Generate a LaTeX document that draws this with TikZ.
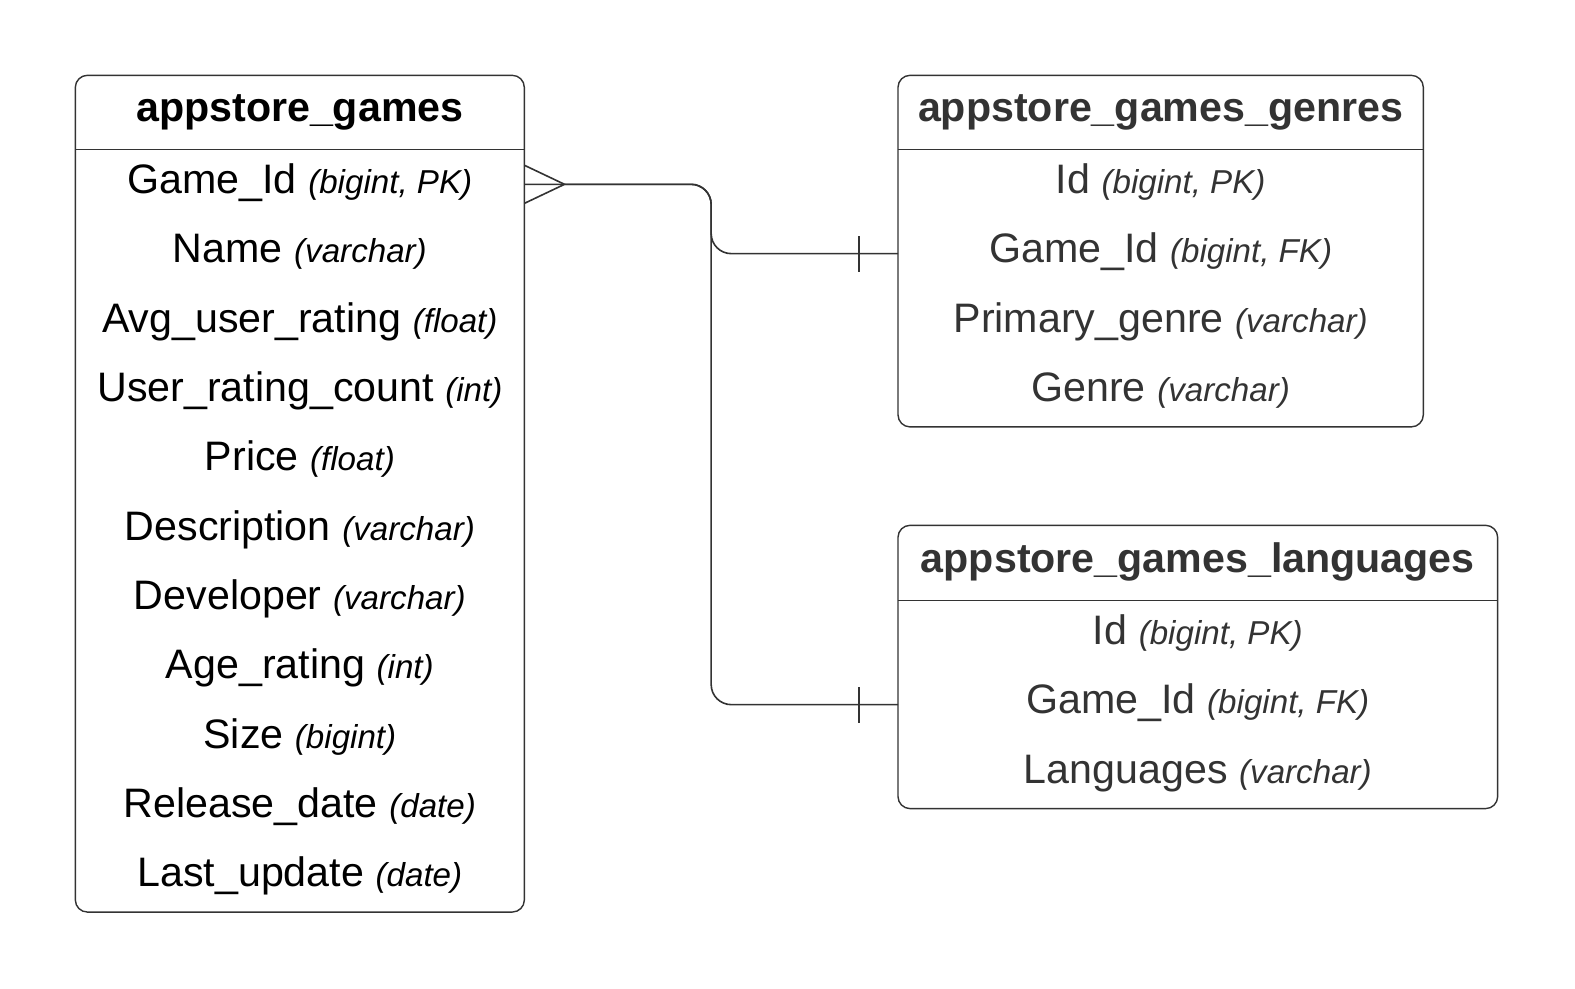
\documentclass[tikz,border=0pt]{standalone}
\usepackage{fontspec}
\setmainfont{Liberation Sans}
\usetikzlibrary{positioning}
\definecolor{edge}{HTML}{333333}
\definecolor{ink}{HTML}{333333}
\newcommand{\ty}[1]{{\fontsize{33}{40}\selectfont\itshape #1}}
\tikzset{
  tblhead/.style={minimum height=74pt, inner sep=0pt, outer sep=0pt, text height=30pt, text depth=11.4pt,
    font=\fontsize{41}{48}\selectfont\bfseries},
  tblrow/.style={minimum height=69pt, inner sep=0pt, outer sep=0pt, text height=30pt, text depth=11.4pt,
    font=\fontsize{41}{48}\selectfont},
  tblbox/.style={draw=edge, line width=1.4pt, rounded corners=12pt},
  link/.style={draw=edge, line width=1.6pt}
}

\begin{document}
\begin{tikzpicture}[x=1pt, y=-1pt]
  \useasboundingbox (0,0) rectangle (1568,984);

  \begin{scope}[every node/.append style={minimum width=447pt}]
    \node[tblhead] (g) at (298.5,112) {appstore\_games};
    \node[tblrow, below=0pt of g] (g1) {Game\_Id \ty{(bigint, PK)}};
    \node[tblrow, below=0pt of g1] (g2) {Name \ty{(varchar)}};
    \node[tblrow, below=0pt of g2] (g3) {Avg\_user\_rating \ty{(float)}};
    \node[tblrow, below=0pt of g3] (g4) {User\_rating\_count \ty{(int)}};
    \node[tblrow, below=0pt of g4] (g5) {Price \ty{(float)}};
    \node[tblrow, below=0pt of g5] (g6) {Description \ty{(varchar)}};
    \node[tblrow, below=0pt of g6] (g7) {Developer \ty{(varchar)}};
    \node[tblrow, below=0pt of g7] (g8) {Age\_rating \ty{(int)}};
    \node[tblrow, below=0pt of g8] (g9) {Size \ty{(bigint)}};
    \node[tblrow, below=0pt of g9] (g10) {Release\_date \ty{(date)}};
    \node[tblrow, below=0pt of g10] (g11) {Last\_update \ty{(date)}};
  \end{scope}

  \begin{scope}[text=ink, every node/.append style={minimum width=523pt}]
    \node[tblhead] (gen) at (1155.5,112) {appstore\_games\_genres};
    \node[tblrow, below=0pt of gen] (gen1) {Id \ty{(bigint, PK)}};
    \node[tblrow, below=0pt of gen1] (gen2) {Game\_Id \ty{(bigint, FK)}};
    \node[tblrow, below=0pt of gen2] (gen3) {Primary\_genre \ty{(varchar)}};
    \node[tblrow, below=0pt of gen3] (gen4) {Genre \ty{(varchar)}};
  \end{scope}

  \begin{scope}[text=ink, every node/.append style={minimum width=597pt}]
    \node[tblhead, minimum height=75pt] (lan) at (1192.5,560.5) {appstore\_games\_languages};
    \node[tblrow, below=0pt of lan] (lan1) {Id \ty{(bigint, PK)}};
    \node[tblrow, below=0pt of lan1] (lan2) {Game\_Id \ty{(bigint, FK)}};
    \node[tblrow, below=0pt of lan2] (lan3) {Languages \ty{(varchar)}};
  \end{scope}

  \draw[tblbox] (g.north west) rectangle (g11.south east);
  \draw[tblbox] (g.south west) -- (g.south east);
  \draw[tblbox] (gen.north west) rectangle (gen4.south east);
  \draw[tblbox] (gen.south west) -- (gen.south east);
  \draw[tblbox] (lan.north west) rectangle (lan3.south east);
  \draw[tblbox] (lan.south west) -- (lan.south east);

  \coordinate[right=40pt of g1.east] (cf);
  \coordinate (bus) at (708,0);
  \draw[link, rounded corners=20pt] (g1.east) -- (cf) -| (bus |- gen2.west) -- (gen2.west);
  \draw[link, rounded corners=20pt] (cf) -| (bus |- lan2.west) -- (lan2.west);
  \draw[link] ([yshift=-19pt]g1.east) -- (cf) -- ([yshift=19pt]g1.east);
  \draw[link] ([xshift=-39pt, yshift=-18pt]gen2.west) -- ([xshift=-39pt, yshift=18pt]gen2.west);
  \draw[link] ([xshift=-39pt, yshift=-18pt]lan2.west) -- ([xshift=-39pt, yshift=18pt]lan2.west);
\end{tikzpicture}
\end{document}
